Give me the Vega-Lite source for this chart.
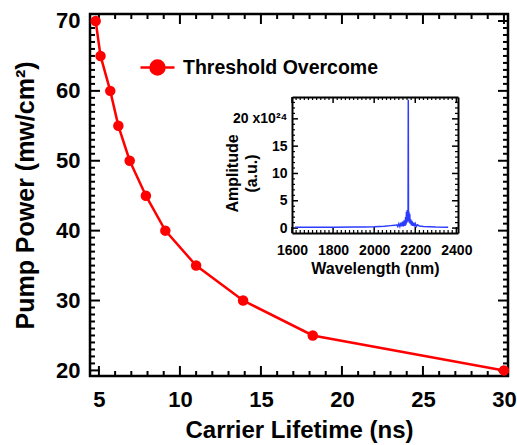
{
  "$schema": "https://vega.github.io/schema/vega-lite/v6.json",
  "width": 418,
  "height": 362,
  "autosize": "none",
  "padding": {"left": 90, "top": 14, "right": 9, "bottom": 69},
  "background": "white",
  "config": {
    "font": "Liberation Sans",
    "view": {"stroke": "black", "strokeWidth": 2.5},
    "axis": {
      "labelFont": "Liberation Sans",
      "titleFont": "Liberation Sans",
      "labelFontWeight": "bold",
      "titleFontWeight": "bold",
      "labelColor": "black",
      "titleColor": "black",
      "domainColor": "black",
      "grid": false,
      "labelOverlap": false,
      "labelFlush": false
    },
    "tick": {"opacity": 1, "color": "black"}
  },
  "datasets": {
    "main": [
      {"lifetime": 4.8, "power": 70, "series": "Threshold Overcome"},
      {"lifetime": 5.1, "power": 65, "series": "Threshold Overcome"},
      {"lifetime": 5.7, "power": 60, "series": "Threshold Overcome"},
      {"lifetime": 6.2, "power": 55, "series": "Threshold Overcome"},
      {"lifetime": 6.9, "power": 50, "series": "Threshold Overcome"},
      {"lifetime": 7.9, "power": 45, "series": "Threshold Overcome"},
      {"lifetime": 9.1, "power": 40, "series": "Threshold Overcome"},
      {"lifetime": 11.0, "power": 35, "series": "Threshold Overcome"},
      {"lifetime": 13.9, "power": 30, "series": "Threshold Overcome"},
      {"lifetime": 18.2, "power": 25, "series": "Threshold Overcome"},
      {"lifetime": 30.0, "power": 20, "series": "Threshold Overcome"}
    ],
    "spec": [
      {"wl": 1615, "amp": 0.15}, {"wl": 1700, "amp": 0.15}, {"wl": 1800, "amp": 0.15},
      {"wl": 1900, "amp": 0.18}, {"wl": 1950, "amp": 0.2}, {"wl": 2000, "amp": 0.25},
      {"wl": 2050, "amp": 0.35}, {"wl": 2080, "amp": 0.45}, {"wl": 2100, "amp": 0.5},
      {"wl": 2110, "amp": 0.6}, {"wl": 2115, "amp": 0.3}, {"wl": 2120, "amp": 0.8},
      {"wl": 2125, "amp": 0.3}, {"wl": 2130, "amp": 1.0}, {"wl": 2134, "amp": 0.3},
      {"wl": 2138, "amp": 1.2}, {"wl": 2142, "amp": 0.3}, {"wl": 2146, "amp": 1.4},
      {"wl": 2150, "amp": 0.4}, {"wl": 2153, "amp": 2.0}, {"wl": 2155, "amp": 0.6},
      {"wl": 2157, "amp": 3.0}, {"wl": 2159, "amp": 1.0}, {"wl": 2161, "amp": 3.3},
      {"wl": 2163, "amp": 1.2}, {"wl": 2165, "amp": 2.8}, {"wl": 2166, "amp": 23.5},
      {"wl": 2167, "amp": 1.5}, {"wl": 2169, "amp": 3.0}, {"wl": 2171, "amp": 1.0},
      {"wl": 2173, "amp": 2.6}, {"wl": 2175, "amp": 0.8}, {"wl": 2178, "amp": 1.6},
      {"wl": 2181, "amp": 0.5}, {"wl": 2184, "amp": 1.3}, {"wl": 2188, "amp": 0.4},
      {"wl": 2192, "amp": 1.0}, {"wl": 2196, "amp": 0.3}, {"wl": 2200, "amp": 0.8},
      {"wl": 2205, "amp": 0.3}, {"wl": 2210, "amp": 0.6}, {"wl": 2220, "amp": 0.4},
      {"wl": 2240, "amp": 0.3}, {"wl": 2270, "amp": 0.25}, {"wl": 2300, "amp": 0.2},
      {"wl": 2360, "amp": 0.15}
    ],
    "xmaj": [{"v": 5}, {"v": 10}, {"v": 15}, {"v": 20}, {"v": 25}, {"v": 30}],
    "xmin": [{"v": 6}, {"v": 7}, {"v": 8}, {"v": 9}, {"v": 11}, {"v": 12}, {"v": 13}, {"v": 14}, {"v": 16}, {"v": 17}, {"v": 18}, {"v": 19}, {"v": 21}, {"v": 22}, {"v": 23}, {"v": 24}, {"v": 26}, {"v": 27}, {"v": 28}, {"v": 29}],
    "ymaj": [{"v": 20}, {"v": 30}, {"v": 40}, {"v": 50}, {"v": 60}, {"v": 70}],
    "ymin": [{"v": 21}, {"v": 22}, {"v": 23}, {"v": 24}, {"v": 25}, {"v": 26}, {"v": 27}, {"v": 28}, {"v": 29}, {"v": 31}, {"v": 32}, {"v": 33}, {"v": 34}, {"v": 35}, {"v": 36}, {"v": 37}, {"v": 38}, {"v": 39}, {"v": 41}, {"v": 42}, {"v": 43}, {"v": 44}, {"v": 45}, {"v": 46}, {"v": 47}, {"v": 48}, {"v": 49}, {"v": 51}, {"v": 52}, {"v": 53}, {"v": 54}, {"v": 55}, {"v": 56}, {"v": 57}, {"v": 58}, {"v": 59}, {"v": 61}, {"v": 62}, {"v": 63}, {"v": 64}, {"v": 65}, {"v": 66}, {"v": 67}, {"v": 68}, {"v": 69}],
    "wmaj": [{"v": 1600}, {"v": 1800}, {"v": 2000}, {"v": 2200}, {"v": 2400}],
    "wmin": [{"v": 1620}, {"v": 1640}, {"v": 1660}, {"v": 1680}, {"v": 1700}, {"v": 1720}, {"v": 1740}, {"v": 1760}, {"v": 1780}, {"v": 1820}, {"v": 1840}, {"v": 1860}, {"v": 1880}, {"v": 1900}, {"v": 1920}, {"v": 1940}, {"v": 1960}, {"v": 1980}, {"v": 2020}, {"v": 2040}, {"v": 2060}, {"v": 2080}, {"v": 2100}, {"v": 2120}, {"v": 2140}, {"v": 2160}, {"v": 2180}, {"v": 2220}, {"v": 2240}, {"v": 2260}, {"v": 2280}, {"v": 2300}, {"v": 2320}, {"v": 2340}, {"v": 2360}, {"v": 2380}],
    "amaj": [{"v": 0}, {"v": 5}, {"v": 10}, {"v": 15}, {"v": 20}],
    "amin": [{"v": 1}, {"v": 2}, {"v": 3}, {"v": 4}, {"v": 6}, {"v": 7}, {"v": 8}, {"v": 9}, {"v": 11}, {"v": 12}, {"v": 13}, {"v": 14}, {"v": 16}, {"v": 17}, {"v": 18}, {"v": 19}, {"v": 21}, {"v": 22}, {"v": 23}]
  },
  "layer": [
    {
      "data": {"name": "xmaj"},
      "mark": {"type": "tick", "orient": "vertical", "size": 10, "thickness": 2, "color": "black", "opacity": 1, "yOffset": -5},
      "encoding": {
        "x": {"field": "v", "type": "quantitative", "scale": {"domain": [4.45, 30.25], "nice": false, "zero": false}, "axis": null},
        "y": {"datum": 19.2, "type": "quantitative", "scale": {"domain": [19.2, 71], "nice": false, "zero": false}, "axis": null}
      }
    },
    {
      "data": {"name": "xmaj"},
      "mark": {"type": "tick", "orient": "vertical", "size": 10, "thickness": 2, "color": "black", "opacity": 1, "yOffset": 5},
      "encoding": {
        "x": {"field": "v", "type": "quantitative", "scale": {"domain": [4.45, 30.25], "nice": false, "zero": false}, "axis": null},
        "y": {"datum": 71, "type": "quantitative", "scale": {"domain": [19.2, 71], "nice": false, "zero": false}, "axis": null}
      }
    },
    {
      "data": {"name": "xmin"},
      "mark": {"type": "tick", "orient": "vertical", "size": 5, "thickness": 2, "color": "black", "opacity": 1, "yOffset": -2.5},
      "encoding": {
        "x": {"field": "v", "type": "quantitative", "scale": {"domain": [4.45, 30.25], "nice": false, "zero": false}, "axis": null},
        "y": {"datum": 19.2, "type": "quantitative", "scale": {"domain": [19.2, 71], "nice": false, "zero": false}, "axis": null}
      }
    },
    {
      "data": {"name": "xmin"},
      "mark": {"type": "tick", "orient": "vertical", "size": 5, "thickness": 2, "color": "black", "opacity": 1, "yOffset": 2.5},
      "encoding": {
        "x": {"field": "v", "type": "quantitative", "scale": {"domain": [4.45, 30.25], "nice": false, "zero": false}, "axis": null},
        "y": {"datum": 71, "type": "quantitative", "scale": {"domain": [19.2, 71], "nice": false, "zero": false}, "axis": null}
      }
    },
    {
      "data": {"name": "ymaj"},
      "mark": {"type": "tick", "orient": "horizontal", "size": 10, "thickness": 2, "color": "black", "opacity": 1, "xOffset": 5},
      "encoding": {
        "x": {"datum": 4.45, "type": "quantitative", "scale": {"domain": [4.45, 30.25], "nice": false, "zero": false}, "axis": null},
        "y": {"field": "v", "type": "quantitative", "scale": {"domain": [19.2, 71], "nice": false, "zero": false}, "axis": null}
      }
    },
    {
      "data": {"name": "ymaj"},
      "mark": {"type": "tick", "orient": "horizontal", "size": 10, "thickness": 2, "color": "black", "opacity": 1, "xOffset": -5},
      "encoding": {
        "x": {"datum": 30.25, "type": "quantitative", "scale": {"domain": [4.45, 30.25], "nice": false, "zero": false}, "axis": null},
        "y": {"field": "v", "type": "quantitative", "scale": {"domain": [19.2, 71], "nice": false, "zero": false}, "axis": null}
      }
    },
    {
      "data": {"name": "ymin"},
      "mark": {"type": "tick", "orient": "horizontal", "size": 5, "thickness": 2, "color": "black", "opacity": 1, "xOffset": 2.5},
      "encoding": {
        "x": {"datum": 4.45, "type": "quantitative", "scale": {"domain": [4.45, 30.25], "nice": false, "zero": false}, "axis": null},
        "y": {"field": "v", "type": "quantitative", "scale": {"domain": [19.2, 71], "nice": false, "zero": false}, "axis": null}
      }
    },
    {
      "data": {"name": "ymin"},
      "mark": {"type": "tick", "orient": "horizontal", "size": 5, "thickness": 2, "color": "black", "opacity": 1, "xOffset": -2.5},
      "encoding": {
        "x": {"datum": 30.25, "type": "quantitative", "scale": {"domain": [4.45, 30.25], "nice": false, "zero": false}, "axis": null},
        "y": {"field": "v", "type": "quantitative", "scale": {"domain": [19.2, 71], "nice": false, "zero": false}, "axis": null}
      }
    },
    {
      "data": {"name": "main"},
      "mark": {"type": "line", "strokeWidth": 2.5, "point": {"filled": true, "size": 110, "opacity": 1}},
      "encoding": {
        "x": {
          "field": "lifetime", "type": "quantitative",
          "scale": {"domain": [4.45, 30.25], "nice": false, "zero": false},
          "axis": {
            "orient": "bottom",
            "values": [5, 10, 15, 20, 25, 30],
            "ticks": false, "domain": false, "grid": false,
            "labelFontSize": 22, "labelPadding": 13,
            "title": "Carrier Lifetime (ns)", "titleFontSize": 24, "titlePadding": 8
          }
        },
        "y": {
          "field": "power", "type": "quantitative",
          "scale": {"domain": [19.2, 71], "nice": false, "zero": false},
          "axis": {
            "orient": "left",
            "values": [20, 30, 40, 50, 60, 70],
            "ticks": false, "domain": false, "grid": false,
            "labelFontSize": 22, "labelPadding": 10,
            "title": "Pump Power (mw/cm²)", "titleFontSize": 25, "titlePadding": 17
          }
        },
        "color": {
          "field": "series", "type": "nominal",
          "scale": {"range": ["#ff0000"]},
          "legend": {
            "title": null, "orient": "none", "legendX": 49, "legendY": 35, "padding": 0,
            "symbolType": "M-1,0H1M-0.41,0A0.41,0.41,0,1,0,0.41,0A0.41,0.41,0,1,0,-0.41,0Z",
            "symbolSize": 1156, "symbolStrokeWidth": 2.5,
            "symbolFillColor": "#ff0000", "symbolStrokeColor": "#ff0000",
            "labelFont": "Liberation Sans", "labelFontWeight": "bold", "labelFontSize": 19.5,
            "labelColor": "black", "labelOffset": 7, "labelLimit": 400
          }
        }
      }
    },
    {
      "data": {"name": "wmaj"},
      "mark": {"type": "tick", "orient": "vertical", "size": 6, "thickness": 1.5, "color": "black", "opacity": 1, "yOffset": -3},
      "encoding": {
        "x": {"field": "v", "type": "quantitative", "scale": {"domain": [1600, 2408], "range": [202, 368], "nice": false, "zero": false}, "axis": null},
        "y": {"datum": -0.9, "type": "quantitative", "scale": {"domain": [-0.9, 24], "range": [219, 83], "nice": false, "zero": false}, "axis": null}
      }
    },
    {
      "data": {"name": "wmaj"},
      "mark": {"type": "tick", "orient": "vertical", "size": 6, "thickness": 1.5, "color": "black", "opacity": 1, "yOffset": 3},
      "encoding": {
        "x": {"field": "v", "type": "quantitative", "scale": {"domain": [1600, 2408], "range": [202, 368], "nice": false, "zero": false}, "axis": null},
        "y": {"datum": 24, "type": "quantitative", "scale": {"domain": [-0.9, 24], "range": [219, 83], "nice": false, "zero": false}, "axis": null}
      }
    },
    {
      "data": {"name": "wmin"},
      "mark": {"type": "tick", "orient": "vertical", "size": 3, "thickness": 1.2, "color": "black", "opacity": 1, "yOffset": -1.5},
      "encoding": {
        "x": {"field": "v", "type": "quantitative", "scale": {"domain": [1600, 2408], "range": [202, 368], "nice": false, "zero": false}, "axis": null},
        "y": {"datum": -0.9, "type": "quantitative", "scale": {"domain": [-0.9, 24], "range": [219, 83], "nice": false, "zero": false}, "axis": null}
      }
    },
    {
      "data": {"name": "wmin"},
      "mark": {"type": "tick", "orient": "vertical", "size": 3, "thickness": 1.2, "color": "black", "opacity": 1, "yOffset": 1.5},
      "encoding": {
        "x": {"field": "v", "type": "quantitative", "scale": {"domain": [1600, 2408], "range": [202, 368], "nice": false, "zero": false}, "axis": null},
        "y": {"datum": 24, "type": "quantitative", "scale": {"domain": [-0.9, 24], "range": [219, 83], "nice": false, "zero": false}, "axis": null}
      }
    },
    {
      "data": {"name": "amaj"},
      "mark": {"type": "tick", "orient": "horizontal", "size": 6, "thickness": 1.5, "color": "black", "opacity": 1, "xOffset": 3},
      "encoding": {
        "x": {"datum": 1600, "type": "quantitative", "scale": {"domain": [1600, 2408], "range": [202, 368], "nice": false, "zero": false}, "axis": null},
        "y": {"field": "v", "type": "quantitative", "scale": {"domain": [-0.9, 24], "range": [219, 83], "nice": false, "zero": false}, "axis": null}
      }
    },
    {
      "data": {"name": "amaj"},
      "mark": {"type": "tick", "orient": "horizontal", "size": 6, "thickness": 1.5, "color": "black", "opacity": 1, "xOffset": -3},
      "encoding": {
        "x": {"datum": 2408, "type": "quantitative", "scale": {"domain": [1600, 2408], "range": [202, 368], "nice": false, "zero": false}, "axis": null},
        "y": {"field": "v", "type": "quantitative", "scale": {"domain": [-0.9, 24], "range": [219, 83], "nice": false, "zero": false}, "axis": null}
      }
    },
    {
      "data": {"name": "amin"},
      "mark": {"type": "tick", "orient": "horizontal", "size": 3, "thickness": 1.2, "color": "black", "opacity": 1, "xOffset": 1.5},
      "encoding": {
        "x": {"datum": 1600, "type": "quantitative", "scale": {"domain": [1600, 2408], "range": [202, 368], "nice": false, "zero": false}, "axis": null},
        "y": {"field": "v", "type": "quantitative", "scale": {"domain": [-0.9, 24], "range": [219, 83], "nice": false, "zero": false}, "axis": null}
      }
    },
    {
      "data": {"name": "amin"},
      "mark": {"type": "tick", "orient": "horizontal", "size": 3, "thickness": 1.2, "color": "black", "opacity": 1, "xOffset": -1.5},
      "encoding": {
        "x": {"datum": 2408, "type": "quantitative", "scale": {"domain": [1600, 2408], "range": [202, 368], "nice": false, "zero": false}, "axis": null},
        "y": {"field": "v", "type": "quantitative", "scale": {"domain": [-0.9, 24], "range": [219, 83], "nice": false, "zero": false}, "axis": null}
      }
    },
    {
      "data": {"name": "spec"},
      "mark": {"type": "line", "strokeWidth": 1.5, "color": "#2b3cff"},
      "encoding": {
        "x": {
          "field": "wl", "type": "quantitative",
          "scale": {"domain": [1600, 2408], "range": [202, 368], "nice": false, "zero": false},
          "axis": {
            "orient": "bottom", "offset": -143,
            "values": [1600, 1800, 2000, 2200, 2400], "format": "d",
            "ticks": false, "grid": false,
            "domain": true, "domainWidth": 2,
            "labelFontSize": 14, "labelPadding": 10,
            "title": "Wavelength (nm)", "titleFontSize": 16, "titlePadding": 3
          }
        },
        "y": {
          "field": "amp", "type": "quantitative",
          "scale": {"domain": [-0.9, 24], "range": [219, 83], "nice": false, "zero": false},
          "axis": {
            "orient": "left", "offset": -202,
            "values": [0, 5, 10, 15, 20],
            "labelExpr": "datum.value === 20 ? '20 x10²⁴' : datum.label",
            "ticks": false, "grid": false,
            "domain": true, "domainWidth": 2,
            "labelFontSize": 14, "labelPadding": 5,
            "title": ["Amplitude", "(a.u.)"], "titleFontSize": 16,
            "titleX": -60, "titleY": 159,
            "titleAlign": "center", "titleBaseline": "middle", "titleLineHeight": 19
          }
        }
      }
    },
    {
      "data": {"name": "spec"},
      "mark": {"type": "point", "opacity": 0},
      "encoding": {
        "x": {
          "field": "wl", "type": "quantitative",
          "scale": {"domain": [1600, 2408], "range": [202, 368], "nice": false, "zero": false},
          "axis": {
            "orient": "top", "offset": -83,
            "labels": false, "title": null, "ticks": false, "grid": false,
            "domain": true, "domainWidth": 2
          }
        },
        "y": {
          "field": "amp", "type": "quantitative",
          "scale": {"domain": [-0.9, 24], "range": [219, 83], "nice": false, "zero": false},
          "axis": {
            "orient": "right", "offset": -50,
            "labels": false, "title": null, "ticks": false, "grid": false,
            "domain": true, "domainWidth": 2
          }
        }
      }
    }
  ],
  "resolve": {
    "scale": {"x": "independent", "y": "independent", "color": "independent"},
    "axis": {"x": "independent", "y": "independent"}
  }
}
